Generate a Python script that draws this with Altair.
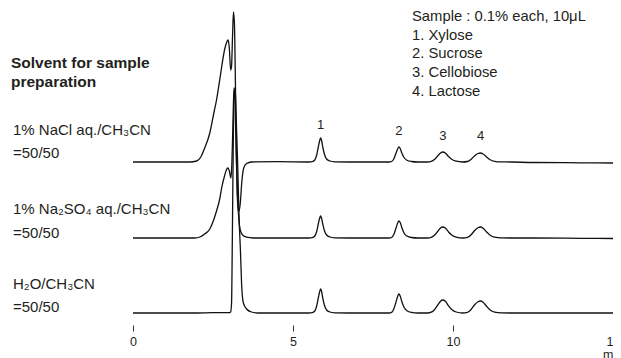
import altair as alt
import pandas as pd

# ---------------- data ----------------
trace_names = ["1% NaCl aq./CH3CN", "1% Na2SO4 aq./CH3CN", "H2O/CH3CN"]
trace_offsets = [163, 87, 12]          # vertical stacking offset of each trace

nacl_t = [0.00, 1.00, 1.77, 1.99, 2.12, 2.24, 2.40, 2.52, 2.61, 2.71, 2.77, 2.86, 2.93, 2.97,
          3.01, 3.05, 3.08, 3.11, 3.14, 3.17, 3.20, 3.23, 3.26, 3.30, 3.35, 3.40, 3.46, 3.55,
          3.70, 4.50, 5.50,
          5.60, 5.68, 5.74, 5.79, 5.83, 5.86, 5.89, 5.93, 5.98, 6.05, 6.15, 6.30, 7.00, 8.00,
          8.08, 8.15, 8.21, 8.27, 8.31, 8.35, 8.40, 8.47, 8.56, 8.70, 8.90, 9.20,
          9.32, 9.42, 9.52, 9.61, 9.68, 9.76, 9.86, 9.97, 10.10, 10.30,
          10.45, 10.56, 10.67, 10.78, 10.86, 10.94, 11.05, 11.16, 11.30, 11.50,
          11.80, 12.50, 14.00, 15.00]
nacl_s = [0, 0, 0, 1, 5, 14, 29, 48, 62, 82, 95, 112, 120, 122,
          114, 92, 96, 125, 150, 138, 80, 10, -35, -50, -42, -20, -6, -1.5,
          0, 0.3, 0,
          0.3, 2, 7, 15, 21, 24, 22, 15, 8, 3, 1, 0.2, 0, 0,
          0.5, 3, 8, 13, 15, 13.5, 9, 4.5, 1.8, 0.5, 0, 0,
          0.6, 2.5, 6, 9, 10, 9, 5.5, 2.5, 0.8, 0,
          0.5, 2.5, 6, 8.5, 9, 8, 5, 2.3, 0.7, 0.1,
          0, -0.5, -0.8, -1]

na2so4_t = [0.00, 1.00, 1.93, 2.09, 2.24, 2.40, 2.52, 2.61, 2.71, 2.77, 2.86, 2.93, 2.97,
            3.01, 3.06, 3.09, 3.12, 3.155, 3.19, 3.23, 3.27, 3.31, 3.36, 3.44, 3.55, 3.75, 5.50,
            5.60, 5.68, 5.74, 5.79, 5.83, 5.86, 5.89, 5.93, 5.98, 6.05, 6.15, 6.30, 7.00, 8.00,
            8.08, 8.15, 8.21, 8.27, 8.31, 8.35, 8.40, 8.47, 8.56, 8.70, 8.90, 9.20,
            9.32, 9.42, 9.52, 9.61, 9.68, 9.76, 9.86, 9.97, 10.10, 10.30,
            10.45, 10.56, 10.67, 10.78, 10.86, 10.94, 11.05, 11.16, 11.30, 11.50,
            11.80, 12.50, 14.00, 15.00]
na2so4_s = [0, 0, 0, 1, 4, 9, 18, 27, 39, 50, 62, 69, 70,
            67, 60, 75, 110, 150, 135, 80, 40, 18, 7, 2.5, 0.8, 0, 0,
            0.3, 2, 6.5, 14, 19.5, 22, 20, 14, 7.5, 3, 1, 0.2, 0, 0,
            0.5, 3.5, 9, 15, 17, 15.5, 10.5, 5, 2, 0.5, 0, 0,
            0.6, 2.8, 6.5, 10, 11, 10, 6, 2.8, 0.9, 0,
            0.6, 3, 7.2, 10.3, 11, 9.8, 6, 2.8, 0.8, 0.1,
            0, 0, -0.3, -0.5]

h2o_t = [0.00, 1.00, 2.00, 2.50, 3.00, 3.05, 3.08, 3.10, 3.13, 3.16, 3.19, 3.22, 3.27,
         3.31, 3.36, 3.40, 3.45, 3.55, 3.70, 3.90, 5.50,
         5.60, 5.68, 5.74, 5.79, 5.83, 5.86, 5.89, 5.93, 5.98, 6.05, 6.15, 6.30, 7.00, 8.00,
         8.08, 8.15, 8.21, 8.27, 8.31, 8.35, 8.40, 8.47, 8.56, 8.70, 8.90, 9.20,
         9.32, 9.42, 9.52, 9.61, 9.68, 9.76, 9.86, 9.97, 10.10, 10.30,
         10.45, 10.56, 10.67, 10.78, 10.86, 10.94, 11.05, 11.16, 11.30, 11.50,
         11.80, 12.50, 14.00, 15.00]
h2o_s = [0, 0, 0, 0.3, 0.3, 1, 10, 60, 160, 220, 225, 200, 150,
         100, 60, 25, 10, 4, 1, 0, 0,
         0.3, 2, 7, 15, 21, 24, 22, 15, 8, 3, 1, 0.2, 0, 0,
         0.6, 4, 10, 16.5, 19, 17, 11.5, 5.7, 2.3, 0.6, 0, 0,
         0.8, 3.3, 7.8, 11.7, 13, 11.7, 7.2, 3.3, 1, 0,
         0.7, 3.3, 8, 11.3, 12, 10.7, 6.7, 3, 0.9, 0.1,
         0, 0, 0, 0]

peak_numbers = ["1", "2", "3", "4"]
peak_times = [5.86, 8.31, 9.68, 10.86]
peak_label_levels = [200, 194, 189, 189]

left_lines = ["Solvent for sample", "preparation",
              "1% NaCl aq./CH₃CN", "=50/50",
              "1% Na₂SO₄ aq./CH₃CN", "=50/50",
              "H₂O/CH₃CN", "=50/50"]
left_bold = [True, True, False, False, False, False, False, False]
left_levels = [262, 243, 195, 172, 116, 92, 41, 18]

sample_lines = ["Sample : 0.1% each, 10μL", "1. Xylose", "2. Sucrose",
                "3. Cellobiose", "4. Lactose"]
sample_levels = [308, 289, 271, 252, 233]

tick_values = [0, 5, 10, 15]
time_unit = "min"

# ---------------- build tables ----------------
rows = []
for name, off, ts, ss in [(trace_names[0], trace_offsets[0], nacl_t, nacl_s),
                          (trace_names[1], trace_offsets[1], na2so4_t, na2so4_s),
                          (trace_names[2], trace_offsets[2], h2o_t, h2o_s)]:
    for i, (t, s) in enumerate(zip(ts, ss)):
        rows.append({"trace": name, "i": i, "t": t, "s": s + off})
df = pd.DataFrame(rows)

peaks_df = pd.DataFrame({"label": peak_numbers, "t": peak_times, "s": peak_label_levels})
left_df = pd.DataFrame({"text": left_lines, "bold": left_bold, "s": left_levels})
sample_df = pd.DataFrame({"text": sample_lines, "s": sample_levels})
unit_df = pd.DataFrame({"text": [time_unit], "t": [tick_values[-1]], "s": [-30]})

FONT = "Liberation Sans"
INK = "#231f20"

xscale = alt.Scale(domain=[0, 15], nice=False, zero=False)
yscale = alt.Scale(domain=[0, 317], nice=False, zero=False)

lines = alt.Chart(df).mark_line(color="#111", strokeWidth=1.3, interpolate="monotone").encode(
    x=alt.X("t:Q", scale=xscale,
            axis=alt.Axis(values=tick_values, format="d", domain=False, grid=False,
                          tickSize=6, tickColor="#333", tickWidth=1,
                          labelFont=FONT, labelFontSize=12.5, labelColor=INK,
                          labelPadding=4, labelFlush=False, labelOverlap=False, title=None)),
    y=alt.Y("s:Q", scale=yscale, axis=None),
    detail="trace:N",
    order="i:Q",
)

peak_text = alt.Chart(peaks_df).mark_text(font=FONT, fontSize=13, color=INK,
                                          baseline="middle", align="center").encode(
    x=alt.X("t:Q", scale=xscale), y=alt.Y("s:Q", scale=yscale), text="label:N")

left_bold_text = alt.Chart(left_df[left_df["bold"]]).mark_text(
    font=FONT, fontSize=15.5, fontWeight="bold", color=INK, align="left", baseline="middle").encode(
    x=alt.value(-122), y=alt.Y("s:Q", scale=yscale), text="text:N")

left_text = alt.Chart(left_df[~left_df["bold"]]).mark_text(
    font=FONT, fontSize=15, color=INK, align="left", baseline="middle").encode(
    x=alt.value(-120), y=alt.Y("s:Q", scale=yscale), text="text:N")

sample_text = alt.Chart(sample_df).mark_text(
    font=FONT, fontSize=14.8, color=INK, align="left", baseline="middle").encode(
    x=alt.value(279), y=alt.Y("s:Q", scale=yscale), text="text:N")

unit_text = alt.Chart(unit_df).mark_text(
    font=FONT, fontSize=12.5, color=INK, align="center", baseline="middle").encode(
    x=alt.X("t:Q", scale=xscale), y=alt.Y("s:Q", scale=yscale), text="text:N")

chart = alt.layer(lines, peak_text, left_bold_text, left_text, sample_text, unit_text).properties(
    width=480, height=317,
    padding={"left": 125, "top": 0, "right": 0, "bottom": 33},
    autosize=alt.AutoSizeParams(type="none"),
    background="white",
).configure_view(stroke=None)

chart.save("out.html", embed_options={"renderer": "svg", "actions": False})
